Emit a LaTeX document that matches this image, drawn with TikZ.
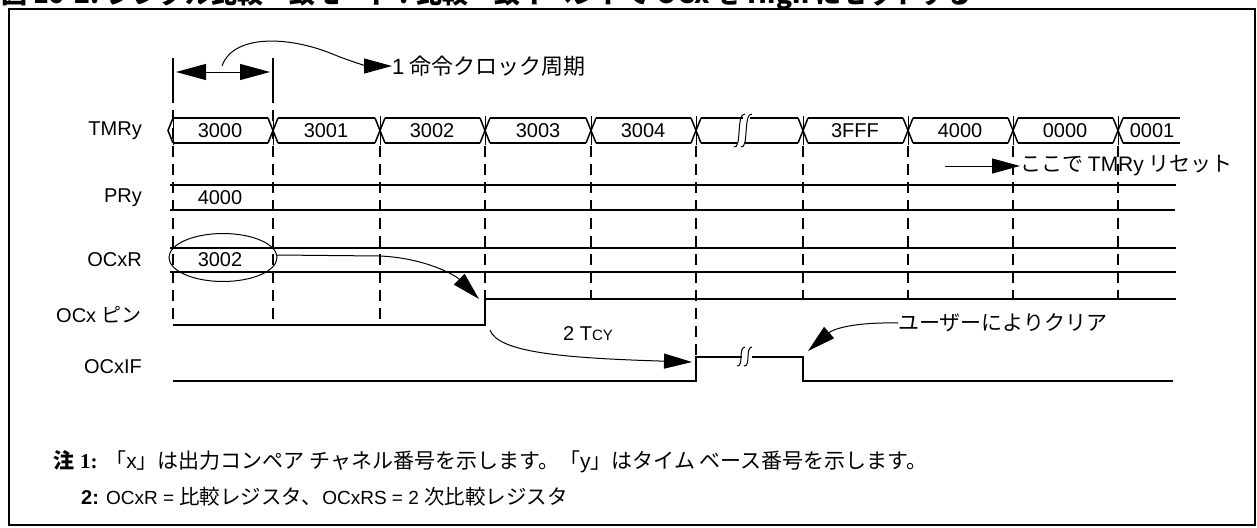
\documentclass[tikz,border=0pt]{standalone}
\usepackage{fontspec}
\setmainfont{Liberation Sans}
\newfontfamily\jp{Noto Sans CJK JP}
\newfontfamily\srf{Liberation Serif}
\usetikzlibrary{arrows.meta}
\begin{document}
\begin{tikzpicture}[x=1pt,y=-1pt,
  sig/.style={line width=1.8pt},
  bus/.style={line width=1.5pt},
  grd/.style={line width=1.8pt,dash pattern=on 11pt off 7pt},
  fine/.style={line width=1pt},
  tip/.style={-{Triangle[length=28pt,width=15pt]}},
  lbl/.style={inner sep=0pt,font=\fontsize{20}{24}\selectfont},
  jpl/.style={inner sep=0pt,font=\jp\fontsize{21}{25}\selectfont},
  ]
\useasboundingbox (0,0) rectangle (1257,527);
\clip (0,0) rectangle (1257,527);

% title (cut at top)
\node[anchor=base west,inner sep=0pt,font=\jp\bfseries\fontsize{26}{30}\selectfont] (title) at (1,4)
  {図 16-2: シングル比較一致モード : 比較一致イベントで OCx を High にセットする};

% frame
\draw[line width=2pt] (9,9) rectangle (1255,525);

% signal labels
\node[lbl,anchor=east] (ltmr) at (142,131) {TMRy};
\node[lbl,anchor=east] (lpr) at (142,198) {PRy};
\node[lbl,anchor=east] (locr) at (142,260) {OCxR};
\node[lbl,anchor=east] (locx) at (142,315) {OCx {\jp ピン}};
\node[lbl,anchor=east] (lif) at (142,367) {OCxIF};

% clock period marker
\draw[sig] (173,58) -- (173,103);
\draw[sig] (273,58) -- (273,103);
\coordinate (dl) at (176,72);
\coordinate (dr) at (270,72);
\draw[fine,{Triangle[length=30pt,width=16pt]}-{Triangle[length=30pt,width=16pt]}] (dl) -- (dr);
\node[inner sep=0pt,font=\jp\fontsize{22}{26}\selectfont,anchor=west] (cyc) at (392,66) {{\fontspec{Liberation Sans}1} 命令クロック周期};
\draw[fine,tip] (222,66) .. controls (232,36) and (285,34) .. (335,55)
   .. controls (352,62) and (368,66) .. (cyc.west);

% dashed grid
\foreach \x in {173,273}{ \draw[grd] (\x,110) -- (\x,325); }
\draw[grd] (380,146) -- (380,325);
\draw[grd] (485,146) -- (485,299);
\foreach \x in {591,803,908,1013,1118}{ \draw[grd] (\x,146) -- (\x,299); }
\draw[grd] (696,146) -- (696,357);
\foreach \x in {173,273,380,485,591,696,803,908,1013,1118}{ \draw[fine] (\x,116) -- (\x,145); }

% TMRy bus
\draw[bus] (173,118) -- (168,130.5) -- (173,143);
\draw[bus] (173,118) -- (268,118);
\draw[bus] (173,143) -- (268,143);
\foreach \a/\b in {273/380,380/485,485/591,591/696,803/908,908/1013,1013/1118}{
  \draw[bus] (\a+5,118) -- (\b-5,118);
  \draw[bus] (\a+5,143) -- (\b-5,143);
}
\foreach \c in {273,380,485,591,696,803,908,1013,1118}{
  \draw[bus] (\c-5,118) -- (\c+5,143);
  \draw[bus] (\c-5,143) -- (\c+5,118);
}
\draw[bus] (1123,118) -- (1180,118);
\draw[bus] (1123,143) -- (1180,143);
% break in bus
\draw[bus] (701,118) -- (743,118);
\draw[bus] (750,118) -- (798,118);
\draw[bus] (701,143) -- (737,143);
\draw[bus] (745,143) -- (798,143);
\draw[fine] (734,147) .. controls (742,149) and (736,113) .. (745,114);
\draw[fine] (741,147) .. controls (749,149) and (743,113) .. (752,114);

\node[lbl] (t0) at (220,131) {3000};
\node[lbl] (t1) at (326,131) {3001};
\node[lbl] (t2) at (432,131) {3002};
\node[lbl] (t3) at (538,131) {3003};
\node[lbl] (t4) at (643,131) {3004};
\node[lbl] (t5) at (855,131) {3FFF};
\node[lbl] (t6) at (960,131) {4000};
\node[lbl] (t7) at (1065,131) {0000};
\node[lbl] (t8) at (1152,131) {0001};

% reset note
\node[jpl,anchor=west] (rst) at (1020,166) {ここで {\fontspec{Liberation Sans}TMRy} リセット};
\coordinate (rsts) at (945,166);
\draw[fine,tip] (rsts) -- (rst.west);

% PRy
\draw[sig] (170,185) -- (1176,185);
\draw[sig] (170,210) -- (1175,210);
\node[lbl] (pv) at (220,198) {4000};

% OCxR
\draw[sig] (170,248) -- (1176,248);
\draw[sig] (170,272) -- (1176,272);
\node[lbl] (ov) at (220,260) {3002};
\draw[fine] (223,257.5) ellipse [x radius=54, y radius=24];
\coordinate (ocre) at (277,255);
\coordinate (ocxup) at (479,299);
\draw[fine,tip] (ocre) -- (380,256) .. controls (425,258) and (455,275) .. (ocxup);

% OCx pin
\draw[sig] (173,325) -- (485,325) -- (485,299) -- (1176,299);

% 2 Tcy
\node[lbl] (tcy) at (588,334) {2 T{\fontsize{15}{18}\selectfont CY}};
\coordinate (tcys) at (490,330);
\coordinate (ifup) at (692,362);
\draw[fine,tip] (tcys) .. controls (498,352) and (560,358) .. (ifup);

% OCxIF
\draw[sig] (173,381) -- (696,381) -- (696,357) -- (742,357);
\draw[sig] (752,357) -- (803,357) -- (803,381) -- (1173,381);
\draw[fine] (737,366) .. controls (744,367) and (738,347) .. (745,347);
\draw[fine] (744,366) .. controls (751,367) and (745,347) .. (752,347);

% cleared by user
\node[jpl,anchor=west] (clr) at (898,323) {ユーザーによりクリア};
\coordinate (clrtip) at (808,351);
\draw[fine,tip] (clr.west) .. controls (850,322) and (832,330) .. (clrtip);

% notes
\node[anchor=west,inner sep=0pt,font=\fontsize{21}{25}\selectfont] (n1) at (53,462)
  {{\jp\bfseries 注} {\srf\bfseries 1:} {\jp 「}x{\jp 」は出力コンペア チャネル番号を示します。「}y{\jp 」はタイム ベース番号を示します。}};
\node[anchor=west,inner sep=0pt,font=\fontsize{19}{23}\selectfont] (n2) at (81,497)
  {{\fontsize{20}{23}\selectfont\textbf{2:}} OCxR = {\jp\fontsize{20.5}{23}\selectfont 比較レジスタ、}OCxRS = 2 {\jp\fontsize{20.5}{23}\selectfont 次比較レジスタ}};
\end{tikzpicture}
\end{document}
